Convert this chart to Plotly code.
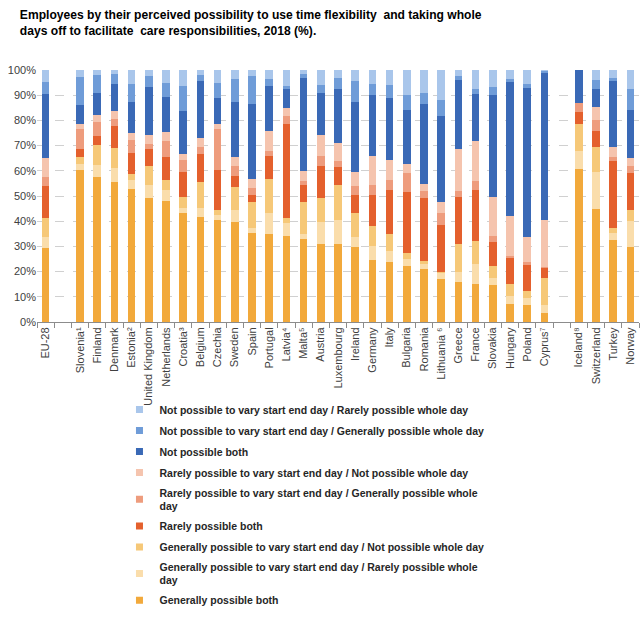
import plotly.graph_objects as go

# --- Data (% of employees) ---
# " " and "  " are empty slots that separate EU-28 / member states / EFTA+candidates
countries = [
    "EU-28", " ",
    "Slovenia¹", "Finland", "Denmark", "Estonia²", "United Kingdom", "Netherlands",
    "Croatia³", "Belgium", "Czechia", "Sweden", "Spain", "Portugal", "Latvia⁴",
    "Malta⁵", "Austria", "Luxembourg", "Ireland", "Germany", "Italy", "Bulgaria",
    "Romania", "Lithuania ⁶", "Greece", "France", "Slovakia", "Hungary", "Poland",
    "Cyprus⁷", "  ",
    "Iceland⁸", "Switzerland", "Turkey", "Norway",
]

gen_both = [29.5, None, 60.4, 57.4, 55.4, 52.7, 49.4, 48.1, 43.2, 41.8, 40.5, 39.6, 35.2, 34.9, 34.1,
            32.9, 30.9, 30.8, 29.6, 24.6, 23.9, 22.3, 21.0, 17.0, 15.7, 15.0, 14.6, 7.3, 6.9,
            3.6, None, 60.7, 44.8, 32.5, 29.9]
gen_rarely = [4.4, None, 2.3, 5.0, 5.7, 3.5, 5.0, 4.4, 2.2, 3.6, 2.0, 4.9, 2.3, 8.5, 5.3,
              2.0, 8.7, 9.7, 4.3, 5.7, 4.3, 2.9, 2.0, 2.5, 4.2, 8.0, 2.7, 2.9, 2.8,
              3.0, None, 7.0, 14.6, 3.0, 10.2]
gen_not = [7.4, None, 2.8, 8.0, 8.0, 2.6, 7.6, 3.9, 4.4, 10.0, 2.0, 8.9, 10.3, 13.4, 1.8,
           12.9, 9.8, 13.8, 9.5, 7.8, 6.7, 2.0, 1.2, 0.2, 11.0, 9.1, 4.9, 4.8, 2.5,
           10.7, None, 10.7, 9.9, 2.0, 4.4]
rare_both = [12.5, None, 3.2, 3.3, 8.6, 8.3, 6.7, 9.1, 9.6, 11.3, 15.9, 4.6, 2.7, 9.2, 37.2,
             6.4, 12.6, 7.1, 7.1, 12.4, 17.6, 24.2, 25.2, 18.8, 18.9, 20.1, 9.7, 10.6, 10.4,
             4.3, None, 4.9, 6.4, 26.5, 14.6]
rare_gen = [3.6, None, 7.9, 5.6, 2.9, 5.3, 2.1, 6.2, 5.0, 2.8, 16.0, 4.0, 2.6, 2.0, 3.5,
            1.6, 3.7, 2.6, 3.5, 3.9, 3.7, 7.7, 2.4, 4.7, 2.0, 3.6, 2.2, 0.6, 1.3,
            0.3, None, 3.7, 4.6, 1.5, 2.9]
rare_not = [7.7, None, 1.8, 3.0, 3.3, 2.6, 3.6, 3.6, 2.3, 3.5, 2.0, 3.3, 3.6, 7.7, 3.1,
            4.0, 8.7, 7.0, 5.4, 11.3, 7.9, 3.7, 3.0, 4.6, 16.9, 15.9, 15.7, 15.9, 10.0,
            18.6, None, 0.0, 5.0, 3.8, 3.1]
not_both = [25.2, None, 7.9, 8.7, 10.7, 12.3, 18.8, 13.9, 17.2, 22.6, 10.3, 22.0, 29.9, 17.9, 7.3,
            36.9, 16.3, 21.6, 28.1, 24.2, 24.9, 21.5, 31.9, 34.1, 27.3, 18.6, 40.1, 53.1, 58.8,
            58.7, None, 13.0, 7.3, 26.3, 19.2]
not_gen = [4.9, None, 10.9, 6.9, 3.7, 7.0, 4.4, 5.5, 9.7, 2.3, 6.3, 9.0, 11.0, 2.7, 1.5,
           1.6, 3.2, 4.1, 8.1, 4.7, 4.9, 5.6, 4.0, 6.1, 1.6, 2.3, 3.5, 1.1, 1.6,
           0.5, None, 0.0, 3.4, 1.3, 8.0]
not_rarely = [4.8, None, 2.8, 2.1, 1.7, 5.7, 2.4, 5.3, 6.4, 2.1, 5.0, 3.7, 2.4, 3.7, 6.2,
              1.7, 6.1, 3.3, 4.4, 5.4, 6.1, 10.1, 9.3, 12.0, 2.4, 7.4, 6.6, 3.7, 5.7,
              0.3, None, 0.0, 4.0, 3.1, 7.7]

# bottom -> top stacking order
series = [
    ("Generally possible both", gen_both, "#F2A93B"),
    ("Generally possible to vary start end day / Rarely possible whole<br>day", gen_rarely, "#FADDAB"),
    ("Generally possible to vary start end day / Not possible whole day", gen_not, "#F6C878"),
    ("Rarely possible both", rare_both, "#E4602D"),
    ("Rarely possible to vary start end day / Generally possible whole<br>day", rare_gen, "#EE9C7D"),
    ("Rarely possible to vary start end day / Not possible whole day", rare_not, "#F5C4AE"),
    ("Not possible both", not_both, "#3A69B6"),
    ("Not possible to vary start end day / Generally possible whole day", not_gen, "#6F9CD8"),
    ("Not possible to vary start end day / Rarely possible whole day", not_rarely, "#A9C6EB"),
]

FONT = "Liberation Sans, Arial, sans-serif"

fig = go.Figure()
for i, (name, vals, color) in enumerate(series):
    fig.add_trace(
        go.Bar(
            x=countries,
            y=vals,
            name=name,
            marker=dict(color=color, line=dict(width=0)),
            showlegend=False,
        )
    )
    # small square legend key (Excel style), top item = last stacked series
    fig.add_trace(
        go.Scatter(
            x=[None],
            y=[None],
            mode="markers",
            marker=dict(symbol="square", size=7, color=color),
            name=name,
            legendgroup=name,
            legendrank=100 - i,
        )
    )

fig.update_layout(
    barmode="stack",
    bargap=0.55,
    width=641,
    height=628,
    margin=dict(l=37, r=2, t=70, b=306),
    paper_bgcolor="white",
    plot_bgcolor="white",
    font=dict(family=FONT, size=11, color="#222222"),
    title=dict(
        text="Employees by their perceived possibility to use time flexibility  and taking whole<br>"
        "days off to facilitate  care responsibilities, 2018 (%).",
        x=0.031,
        xanchor="left",
        y=0.969,
        yanchor="top",
        font=dict(family=FONT, size=12.1, color="#000000", weight="bold"),
    ),
    legend=dict(
        orientation="v",
        traceorder="grouped",
        tracegroupgap=2,
        x=0.137,
        xanchor="left",
        y=-0.29,
        yanchor="top",
        font=dict(family=FONT, size=10.5, color="#262626", weight="bold"),
        itemwidth=30,
        bgcolor="rgba(0,0,0,0)",
    ),
    showlegend=True,
)

fig.update_xaxes(
    type="category",
    categoryorder="array",
    categoryarray=countries,
    tickangle=-90,
    tickfont=dict(family=FONT, size=11, color="#404040"),
    showline=True,
    linecolor="#8c8c8c",
    linewidth=1,
    ticks="outside",
    tickson="boundaries",
    ticklen=5,
    tickcolor="#8c8c8c",
    showgrid=False,
)

fig.update_yaxes(
    range=[0, 100],
    dtick=10,
    ticksuffix="%",
    tickfont=dict(family=FONT, size=11, color="#404040"),
    showgrid=True,
    gridcolor="#d0d0d0",
    griddash="dash",
    gridwidth=1,
    zeroline=False,
    showline=False,
)

# drop the default 8px body margin so the 641x628 figure sits flush in the window
fig.write_html(
    "out.html",
    config={"displayModeBar": False},
    post_script="document.body.style.margin='0';",
)
